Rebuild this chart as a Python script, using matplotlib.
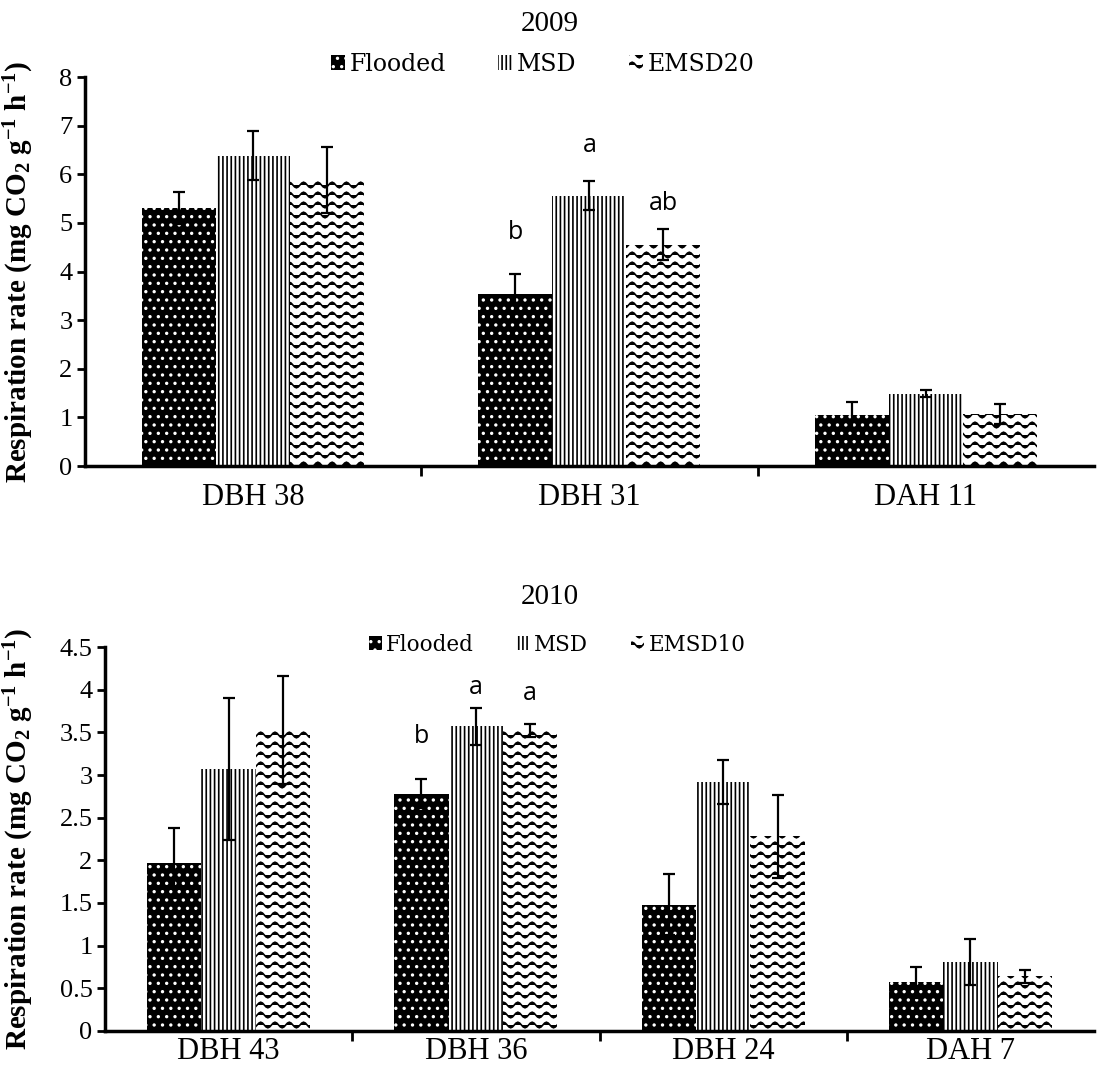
import warnings
import numpy as np
import matplotlib
matplotlib.use('Agg')
import matplotlib.pyplot as plt
import matplotlib.hatch as mhatch
from matplotlib.path import Path
from matplotlib.ticker import FormatStrFormatter

warnings.filterwarnings('ignore')

# ---- data ----
cats_09 = ['DBH 38', 'DBH 31', 'DAH 11']
names_09 = ['Flooded', 'MSD', 'EMSD20']
flooded_09 = [5.30, 3.54, 1.05]
msd_09 = [6.38, 5.56, 1.49]
emsd_09 = [5.89, 4.55, 1.07]
flooded_09_err = [0.33, 0.41, 0.26]
msd_09_err = [0.50, 0.30, 0.07]
emsd_09_err = [0.68, 0.32, 0.20]
# (category, series, letter, height)
letters_09 = [(1, 0, 'b', 4.8), (1, 1, 'a', 6.6), (1, 2, 'ab', 5.4)]

cats_10 = ['DBH 43', 'DBH 36', 'DBH 24', 'DAH 7']
names_10 = ['Flooded', 'MSD', 'EMSD10']
flooded_10 = [1.97, 2.78, 1.48, 0.57]
msd_10 = [3.07, 3.57, 2.92, 0.81]
emsd_10 = [3.53, 3.52, 2.28, 0.64]
flooded_10_err = [0.41, 0.17, 0.36, 0.18]
msd_10_err = [0.83, 0.22, 0.26, 0.27]
emsd_10_err = [0.63, 0.08, 0.49, 0.08]
letters_10 = [(1, 0, 'b', 3.45), (1, 1, 'a', 4.02), (1, 2, 'a', 3.95)]


# wavy hatch for the EMSD bars ('~')
class WaveHatch(mhatch.HatchPatternBase):
    def __init__(self, hatch, density):
        self.rows = hatch.count('~') * 10
        self.waves = 7
        self.steps = self.waves * 8
        self.num_vertices = self.rows * (self.steps + 1)

    def set_vertices_and_codes(self, vertices, codes):
        t = np.linspace(0, 1, self.steps + 1)
        n = self.steps + 1
        for i in range(self.rows):
            y = (i + 0.5) / self.rows + 0.028 * np.sin(2 * np.pi * self.waves * t)
            vertices[i * n:(i + 1) * n, 0] = t
            vertices[i * n:(i + 1) * n, 1] = y
            codes[i * n] = Path.MOVETO
            codes[i * n + 1:(i + 1) * n] = Path.LINETO


mhatch._hatch_types.append(WaveHatch)

plt.rcParams['hatch.linewidth'] = 1.2
plt.rcParams['mathtext.fontset'] = 'custom'
plt.rcParams['mathtext.bf'] = 'Liberation Serif:bold'
plt.rcParams['mathtext.rm'] = 'Liberation Serif:bold'
plt.rcParams['mathtext.default'] = 'bf'

styles = [dict(color='black', edgecolor='white', hatch='..'),
          dict(color='white', edgecolor='black', hatch='||||'),
          dict(color='white', edgecolor='black', hatch='~')]

ylab = r'Respiration rate (mg CO$_2$ g$^{-1}$ h$^{-1}$)'

fig = plt.figure(figsize=(10.99, 10.8), dpi=100)
ax1 = fig.add_axes([0.0773, 0.5685, 0.918, 0.3602])
ax2 = fig.add_axes([0.0955, 0.0454, 0.900, 0.3555])


def panel(ax, cats, names, vals, errs, letters, ymax, ystep, leg_xy, leg_size,
          leg_gap, title, title_y, lab_x, xpad):
    x = np.arange(len(cats))
    w = 0.22
    handles = []
    for i in range(3):
        b = ax.bar(x + (i - 1) * w, vals[i], w, yerr=errs[i], linewidth=0,
                   error_kw=dict(ecolor='black', elinewidth=1.6, capsize=4, capthick=1.6),
                   label=names[i], **styles[i])
        handles.append(b)
    for c, s, txt, yv in letters:
        ax.text(c + (s - 1) * w, yv, txt, ha='center', va='center',
                fontsize=18, family='Open Sans')
    ax.set_xlim(-0.5, len(cats) - 0.5)
    ax.set_ylim(0, ymax)
    ax.set_yticks(np.arange(0, ymax + 1e-9, ystep))
    ax.yaxis.set_major_formatter(FormatStrFormatter('%g'))
    ax.set_xticks(x)
    ax.set_xticklabels(cats)
    ax.set_xticks(np.arange(0.5, len(cats) - 0.5, 1), minor=True)
    ax.tick_params(axis='x', which='major', length=0, pad=xpad, labelsize=22)
    ax.tick_params(axis='x', which='minor', length=7, width=2, direction='out')
    ax.tick_params(axis='y', length=6, width=2, direction='out', labelsize=19, pad=3)
    for lb in ax.get_xticklabels() + ax.get_yticklabels():
        lb.set_family('Liberation Serif')
    for sp in ['top', 'right']:
        ax.spines[sp].set_visible(False)
    for sp in ['left', 'bottom']:
        ax.spines[sp].set_linewidth(2.5)
    ax.set_ylabel(ylab, fontsize=21, fontweight='bold', family='Liberation Serif')
    ax.yaxis.set_label_coords(lab_x, 0.5)
    ax.legend(handles=handles, loc='center', bbox_to_anchor=leg_xy,
              bbox_transform=fig.transFigure, ncol=3, frameon=False,
              prop=dict(family='DejaVu Serif', size=leg_size), handlelength=0.6,
              handleheight=0.6, handletextpad=0.2, columnspacing=leg_gap)
    fig.text(0.5, title_y, title, ha='center', va='center', fontsize=21,
             family='Liberation Serif')


panel(ax1, cats_09, names_09, [flooded_09, msd_09, emsd_09],
      [flooded_09_err, msd_09_err, emsd_09_err], letters_09,
      8, 1, (0.494, 0.94), 17, 2.2, '2009', 0.978, -0.049, 12)
panel(ax2, cats_10, names_10, [flooded_10, msd_10, emsd_10],
      [flooded_10_err, msd_10_err, emsd_10_err], letters_10,
      4.5, 0.5, (0.507, 0.403), 15.5, 2.0, '2010', 0.447, -0.07, 4)

fig.savefig('out.png', dpi=100)
